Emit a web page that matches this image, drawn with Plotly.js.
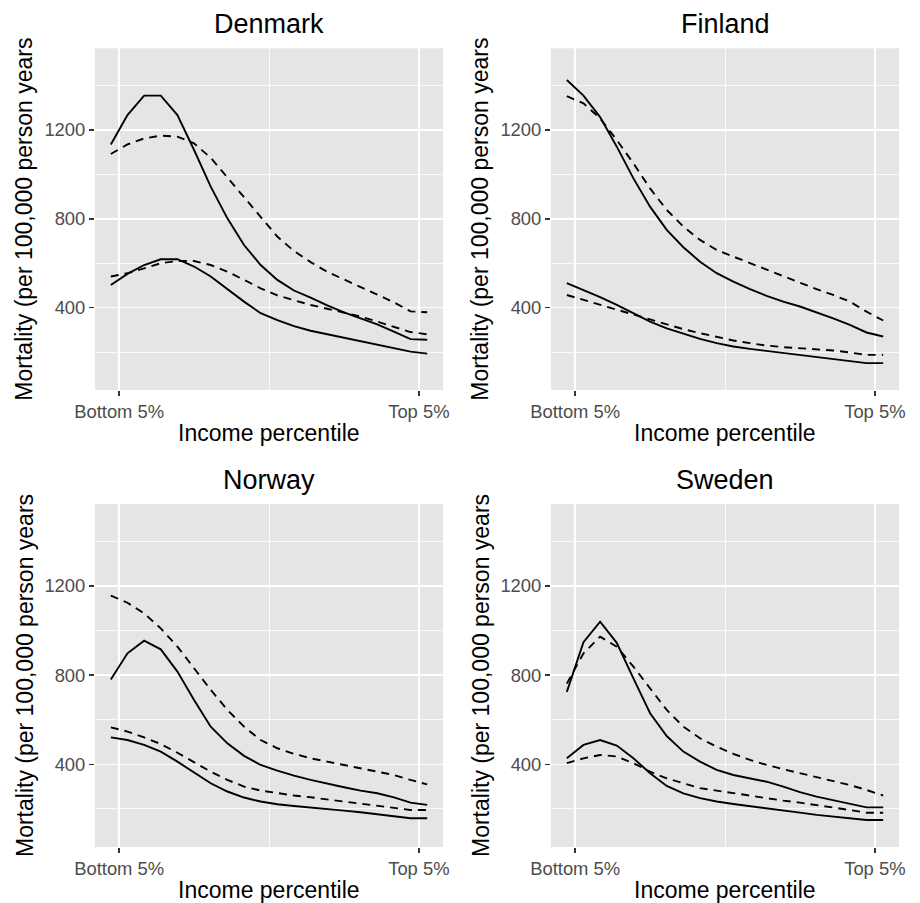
<!DOCTYPE html>
<html><head><meta charset="utf-8">
<script src="https://cdn.plot.ly/plotly-3.0.1.min.js"></script>
<style>html,body{margin:0;padding:0;background:#fff}#chart{width:920px;height:903px}</style>
</head><body><div id="chart"></div>
<script>
// x positions: midpoints of income ventiles (percentile)
const percentile = [2.5, 7.5, 12.5, 17.5, 22.5, 27.5, 32.5, 37.5, 42.5, 47.5, 52.5, 57.5, 62.5, 67.5, 72.5, 77.5, 82.5, 87.5, 92.5, 97.5];
const xTickVals = [5, 95];
const xTickText = ["Bottom 5%", "Top 5%"];
const xMinorVals = [50];
const yTickVals = [400, 800, 1200];
const yMinorVals = [200, 600, 1000, 1400];
const countries = ["Denmark", "Finland", "Norway", "Sweden"];

const denmarkSolidHigh = [1135, 1267, 1355, 1355, 1267, 1110, 945, 802, 682, 592, 525, 477, 445, 410, 379, 352, 325, 292, 258, 255];
const denmarkDashHigh  = [1092, 1135, 1162, 1175, 1170, 1140, 1075, 985, 895, 805, 720, 655, 605, 561, 528, 492, 459, 424, 383, 379];
const denmarkSolidLow  = [502, 552, 592, 618, 618, 585, 540, 483, 427, 375, 344, 317, 296, 280, 265, 250, 235, 220, 202, 193];
const denmarkDashLow   = [540, 555, 577, 600, 610, 610, 592, 562, 525, 487, 455, 432, 412, 395, 378, 360, 337, 312, 290, 280];

const finlandSolidHigh = [1425, 1355, 1258, 1125, 982, 855, 750, 672, 607, 555, 517, 483, 453, 427, 405, 380, 352, 322, 288, 270];
const finlandDashHigh  = [1353, 1320, 1252, 1155, 1050, 937, 840, 765, 705, 660, 630, 600, 570, 540, 510, 483, 457, 427, 382, 342];
const finlandSolidLow  = [510, 480, 447, 412, 375, 337, 307, 282, 259, 240, 225, 214, 205, 195, 187, 180, 169, 160, 150, 150];
const finlandDashLow   = [457, 435, 412, 390, 367, 345, 322, 303, 285, 267, 252, 240, 229, 222, 217, 213, 207, 198, 187, 187];

const norwaySolidHigh  = [781, 898, 955, 916, 816, 689, 569, 494, 438, 397, 372, 349, 330, 312, 297, 282, 270, 252, 228, 218];
const norwayDashHigh   = [1157, 1125, 1077, 1010, 928, 831, 734, 644, 569, 509, 472, 447, 427, 412, 397, 382, 367, 352, 330, 310];
const norwaySolidLow   = [521, 509, 487, 457, 412, 363, 315, 278, 251, 233, 221, 213, 207, 200, 192, 185, 176, 168, 158, 158];
const norwayDashLow    = [566, 547, 521, 491, 452, 408, 367, 330, 300, 282, 270, 260, 252, 243, 233, 222, 213, 206, 195, 195];

const swedenSolidHigh  = [725, 948, 1040, 945, 786, 629, 527, 457, 412, 375, 352, 337, 322, 300, 275, 255, 240, 225, 207, 207];
const swedenDashHigh   = [762, 898, 973, 928, 838, 741, 644, 569, 517, 479, 447, 420, 397, 378, 360, 342, 322, 307, 285, 260];
const swedenSolidLow   = [427, 487, 509, 484, 427, 360, 303, 270, 248, 233, 222, 213, 203, 192, 183, 173, 165, 158, 150, 150];
const swedenDashLow    = [405, 427, 442, 435, 405, 367, 337, 315, 293, 282, 270, 260, 248, 237, 228, 218, 207, 195, 183, 183];

const seriesByCountry = [
  [denmarkSolidHigh, denmarkDashHigh, denmarkSolidLow, denmarkDashLow],
  [finlandSolidHigh, finlandDashHigh, finlandSolidLow, finlandDashLow],
  [norwaySolidHigh, norwayDashHigh, norwaySolidLow, norwayDashLow],
  [swedenSolidHigh, swedenDashHigh, swedenSolidLow, swedenDashLow]
];
const dashes = ["solid", "8px,6px", "solid", "8px,6px"];

const W = 920, H = 903;
// panel plot areas in px
const panels = [
  {x0: 95, x1: 443, y0: 48.3, y1: 390},
  {x0: 551, x1: 899, y0: 48.3, y1: 390},
  {x0: 95, x1: 443, y0: 504, y1: 847},
  {x0: 551, x1: 899, y0: 504, y1: 847}
];

const traces = [];
const layout = {
  width: W, height: H,
  margin: {l: 0, r: 0, t: 0, b: 0},
  paper_bgcolor: "#ffffff",
  plot_bgcolor: "#E5E5E5",
  showlegend: false,
  font: {family: "Liberation Sans, Arial, sans-serif", color: "#000000"},
  annotations: []
};

const tickFont = {family: "Liberation Sans, Arial, sans-serif", size: 18.4, color: "#4D4D4D"};

panels.forEach((p, i) => {
  const n = i === 0 ? "" : String(i + 1);
  const xa = "x" + n, ya = "y" + n;
  seriesByCountry[i].forEach((vals, j) => {
    traces.push({
      type: "scatter", mode: "lines",
      x: percentile, y: vals,
      xaxis: xa, yaxis: ya,
      line: {color: "#000000", width: 1.9, dash: dashes[j]},
      hoverinfo: "skip"
    });
  });
  layout["xaxis" + n] = {
    domain: [p.x0 / W, p.x1 / W],
    anchor: ya,
    range: [-2.25, 102.25],
    tickmode: "array", tickvals: xTickVals, ticktext: xTickText,
    ticks: "outside", ticklen: 5, tickwidth: 1.6, tickcolor: "#333333",
    tickfont: tickFont,
    showgrid: true, gridcolor: "#ffffff", gridwidth: 1.6,
    minor: {tickmode: "array", tickvals: xMinorVals, showgrid: true, gridcolor: "#ffffff", gridwidth: 0.8, ticks: ""},
    zeroline: false, showline: false, fixedrange: true
  };
  layout["yaxis" + n] = {
    domain: [1 - p.y1 / H, 1 - p.y0 / H],
    anchor: xa,
    range: [29, 1568],
    tickmode: "array", tickvals: yTickVals,
    ticks: "outside", ticklen: 5, tickwidth: 1.6, tickcolor: "#333333",
    tickfont: tickFont,
    showgrid: true, gridcolor: "#ffffff", gridwidth: 1.6,
    minor: {tickmode: "array", tickvals: yMinorVals, showgrid: true, gridcolor: "#ffffff", gridwidth: 0.8, ticks: ""},
    zeroline: false, showline: false, fixedrange: true
  };
  const cx = (p.x0 + p.x1) / 2, cy = (p.y0 + p.y1) / 2;
  // panel title
  layout.annotations.push({
    text: countries[i], xref: "paper", yref: "paper",
    x: cx / W, y: 1 - (p.y0 - 24.5) / H, xanchor: "center", yanchor: "middle",
    showarrow: false, font: {size: 27, color: "#000000"}
  });
  // x axis title
  layout.annotations.push({
    text: "Income percentile", xref: "paper", yref: "paper",
    x: cx / W, y: 1 - (p.y1 + 43) / H, xanchor: "center", yanchor: "middle",
    showarrow: false, font: {size: 23, color: "#000000"}
  });
  // y axis title
  layout.annotations.push({
    text: "Mortality (per 100,000 person years", xref: "paper", yref: "paper",
    x: (p.x0 - 70.5) / W, y: 1 - cy / H, xanchor: "center", yanchor: "middle",
    textangle: -90,
    showarrow: false, font: {size: 23, color: "#000000"}
  });
});

Plotly.newPlot("chart", traces, layout, {displayModeBar: false, staticPlot: true});
</script>
</body></html>
